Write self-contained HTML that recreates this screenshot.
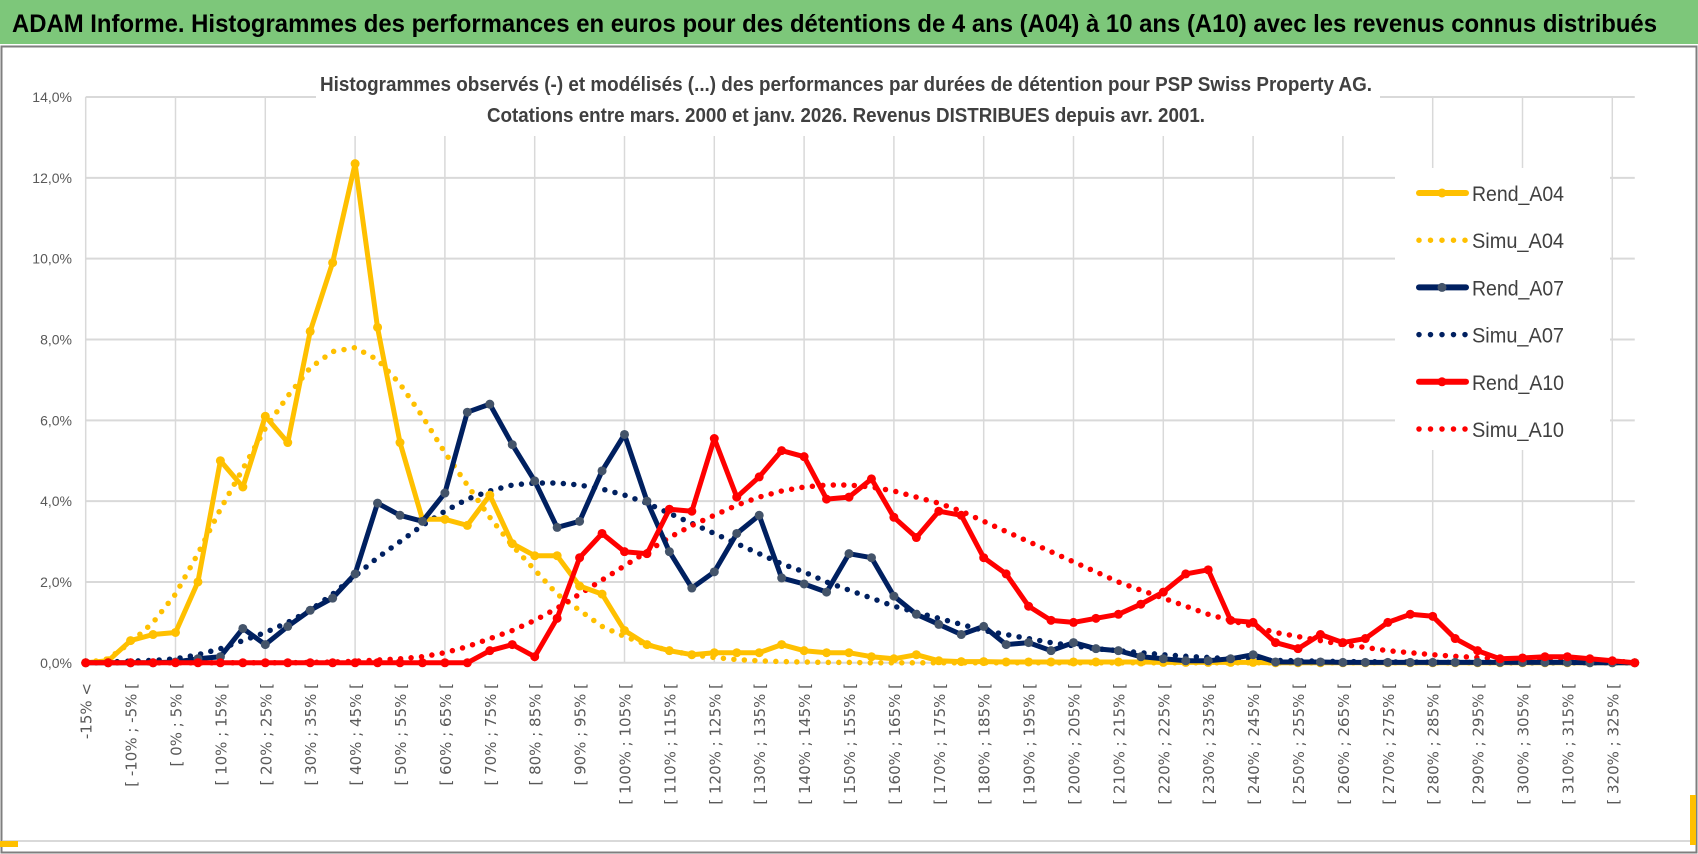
<!DOCTYPE html>
<html><head><meta charset="utf-8"><style>
html,body{margin:0;padding:0;background:#fff;}
svg{display:block;}
</style></head><body>
<svg id="chart" width="1698" height="854" viewBox="0 0 1698 854" xmlns="http://www.w3.org/2000/svg">
<rect x="0" y="0" width="1698" height="854" fill="#ffffff"/>
<rect x="0" y="0" width="1698" height="44" fill="#7dc77a"/>
<text x="12" y="32" font-family="Liberation Sans, sans-serif" font-weight="bold" font-size="25" fill="#000" textLength="1645" lengthAdjust="spacingAndGlyphs">ADAM Informe. Histogrammes des performances en euros pour des détentions de 4 ans (A04) à 10 ans (A10) avec les revenus connus distribués</text>
<rect x="1.5" y="46.5" width="1695" height="806" fill="none" stroke="#7f7f7f" stroke-width="2"/>
<rect x="3" y="840" width="1692" height="2" fill="#d9d9d9"/>
<rect x="0" y="841" width="18" height="6" fill="#ffc000"/>
<rect x="1690" y="795" width="6" height="50" fill="#ffc000"/>
<g id="grid"></g>
<rect x="316" y="62" width="1064" height="74" fill="#fff"/>
<text x="846" y="91" text-anchor="middle" font-family="Liberation Sans, sans-serif" font-weight="bold" font-size="20" fill="#404040" textLength="1052" lengthAdjust="spacingAndGlyphs">Histogrammes observés (-) et modélisés (...) des performances par durées de détention pour PSP Swiss Property AG.</text>
<text x="846" y="122" text-anchor="middle" font-family="Liberation Sans, sans-serif" font-weight="bold" font-size="20" fill="#404040" textLength="718" lengthAdjust="spacingAndGlyphs">Cotations entre mars. 2000 et janv. 2026. Revenus DISTRIBUES depuis avr. 2001.</text>
<g id="yaxis"></g>
<g id="xaxis"></g>
<g id="series"></g>
<rect x="1395" y="168" width="215" height="282" fill="#fff"/>
<g id="legend"></g>
</svg>
<script>
const rendA04=[0,0.05,0.55,0.7,0.75,2.0,5.0,4.35,6.1,5.45,8.2,9.9,12.35,8.3,5.45,3.55,3.55,3.4,4.15,2.95,2.65,2.65,1.9,1.7,0.8,0.45,0.3,0.2,0.25,0.25,0.25,0.45,0.3,0.25,0.25,0.15,0.1,0.2,0.05,0.03,0.03,0.02,0.02,0.02,0.02,0.02,0.02,0.02,0.01,0.01,0.01,0.01,0.01,0,0,0,0,0,0,0,0,0,0,0,0,0,0,0,0,0];
const simuA04=[0,0.1,0.5,1.0,1.7,2.7,3.8,4.8,5.8,6.6,7.3,7.7,7.8,7.5,6.9,6.1,5.2,4.4,3.6,2.9,2.3,1.7,1.3,0.9,0.65,0.45,0.3,0.2,0.13,0.08,0.05,0.03,0.02,0.01,0.01,0,0,0,0,0,0,0,0,0,0,0,0,0,0,0,0,0,0,0,0,0,0,0,0,0,0,0,0,0,0,0,0,0,0,0];
const rendA07=[0,0,0,0,0.02,0.1,0.15,0.85,0.45,0.9,1.3,1.6,2.2,3.95,3.65,3.5,4.2,6.2,6.4,5.4,4.5,3.35,3.5,4.75,5.65,4.0,2.75,1.85,2.25,3.2,3.65,2.1,1.95,1.75,2.7,2.6,1.65,1.2,0.95,0.7,0.9,0.45,0.5,0.3,0.5,0.35,0.3,0.15,0.1,0.05,0.05,0.1,0.2,0.02,0.02,0.02,0.01,0.01,0.01,0.01,0.01,0.01,0.01,0.01,0.01,0.01,0.01,0,0,0];
const simuA07=[0,0.02,0.04,0.06,0.1,0.2,0.35,0.55,0.75,1.0,1.3,1.7,2.15,2.6,3.0,3.4,3.75,4.05,4.25,4.4,4.45,4.45,4.4,4.3,4.15,3.95,3.7,3.45,3.2,2.95,2.7,2.45,2.25,2.0,1.8,1.6,1.4,1.25,1.1,0.95,0.8,0.7,0.6,0.5,0.42,0.35,0.3,0.25,0.2,0.16,0.13,0.1,0.08,0.06,0.05,0.04,0.03,0.03,0.02,0.02,0.01,0.01,0.01,0.01,0,0,0,0,0,0];
const rendA10=[0,0,0,0,0,0,0,0,0,0,0,0,0,0,0,0,0,0,0.3,0.45,0.15,1.1,2.6,3.2,2.75,2.7,3.8,3.75,5.55,4.1,4.6,5.25,5.1,4.05,4.1,4.55,3.6,3.1,3.75,3.65,2.6,2.2,1.4,1.05,1.0,1.1,1.2,1.45,1.75,2.2,2.3,1.05,1.0,0.5,0.35,0.7,0.5,0.6,1.0,1.2,1.15,0.6,0.3,0.1,0.12,0.15,0.15,0.1,0.05,0];
const simuA10=[0,0,0,0,0,0,0,0,0,0,0.01,0.02,0.04,0.07,0.1,0.15,0.25,0.4,0.6,0.8,1.05,1.35,1.7,2.05,2.4,2.75,3.1,3.4,3.65,3.9,4.1,4.25,4.35,4.4,4.4,4.35,4.25,4.1,3.95,3.75,3.5,3.25,3.0,2.75,2.5,2.25,2.0,1.8,1.6,1.4,1.2,1.05,0.9,0.75,0.65,0.55,0.45,0.38,0.3,0.25,0.2,0.16,0.13,0.1,0.08,0.06,0.05,0.04,0.03,0.02];
const yTicks=[0,2,4,6,8,10,12,14];
const yTickLabels=["0,0%","2,0%","4,0%","6,0%","8,0%","10,0%","12,0%","14,0%"];
const nCat=70;

const NS="http://www.w3.org/2000/svg";
const X0=85.7, STEP=22.45, Y0=662.8, YPER=(662.8-97)/14;
function xs(i){return X0+STEP*i;}
function ys(v){return Y0-v*YPER;}
function catLabel(i){ if(i===0) return "-15% <"; const a=-20+5*i; return "[ "+a+"% ; "+(a+5)+"% ["; }
function mk(tag,attrs,parent){const e=document.createElementNS(NS,tag);for(const k in attrs)e.setAttribute(k,attrs[k]);parent.appendChild(e);return e;}

const grid=document.getElementById('grid');
const xRight=xs(nCat-1);
yTicks.forEach(function(t){
  const l=mk('line',{x1:X0,x2:xRight,y1:ys(t),y2:ys(t),stroke:'#d9d9d9','stroke-width':2},grid);
  
  
});
for(let i=0;i<nCat;i+=4){
  const l=mk('line',{x1:xs(i),x2:xs(i),y1:ys(14),y2:ys(0),stroke:'#d9d9d9','stroke-width':1.5},grid);
  
  
}
const yax=document.getElementById('yaxis');
yTicks.forEach(function(t,k){
  const tx=mk('text',{x:72,y:ys(t)+5,'text-anchor':'end','font-family':'Liberation Sans, sans-serif','font-size':14,fill:'#595959'},yax);
  tx.textContent=yTickLabels[k];
  
  
});
const xax=document.getElementById('xaxis');
for(let i=0;i<nCat;i+=2){
  const x=xs(i)+6, y=683;
  const tx=mk('text',{x:x,y:y,'text-anchor':'end',transform:'rotate(-90 '+x+' '+y+')','font-family':'DejaVu Sans, sans-serif','font-size':15,fill:'#595959'},xax);
  tx.textContent=catLabel(i);
  
  
}
const ser=document.getElementById('series');
function pts(arr){return arr.map(function(v,i){return xs(i).toFixed(1)+','+ys(v).toFixed(1);}).join(' ');}
function dotted(arr,color,name){
  const p=mk('polyline',{points:pts(arr),fill:'none',stroke:color,'stroke-width':5.5,'stroke-linecap':'round','stroke-dasharray':'0 10.5'},ser);
  
  
}
function solid(arr,color,mcolor,name){
  const g=mk('g',{},ser);
  
  
  mk('polyline',{points:pts(arr),fill:'none',stroke:color,'stroke-width':5,'stroke-linejoin':'round'},g);
  arr.forEach(function(v,i){
    const c=mk('circle',{cx:xs(i),cy:ys(v),r:4.5,fill:mcolor},g);
    
    
  });
}
dotted(simuA04,'#ffc000','simu-a04-line');
dotted(simuA07,'#002060','simu-a07-line');
dotted(simuA10,'#ff0000','simu-a10-line');
solid(rendA04,'#ffc000','#ffc000','rend-a04-line');
solid(rendA07,'#002060','#44546a','rend-a07-line');
solid(rendA10,'#ff0000','#ff0000','rend-a10-line');

const leg=document.getElementById('legend');
const entries=[["Rend_A04","#ffc000","#ffc000",true],["Simu_A04","#ffc000",null,false],["Rend_A07","#002060","#44546a",true],["Simu_A07","#002060",null,false],["Rend_A10","#ff0000","#ff0000",true],["Simu_A10","#ff0000",null,false]];
entries.forEach(function(e,k){
  const y=193+k*47.2;
  const g=mk('g',{},leg);
  
  
  if(e[3]){
    mk('line',{x1:1419,x2:1466,y1:y,y2:y,stroke:e[1],'stroke-width':6,'stroke-linecap':'round'},g);
    mk('circle',{cx:1442,cy:y,r:4.5,fill:e[2]},g);
  } else {
    mk('line',{x1:1419,x2:1466,y1:y,y2:y,stroke:e[1],'stroke-width':5.5,'stroke-linecap':'round','stroke-dasharray':'0 11.5'},g);
  }
  const t=mk('text',{x:1472,y:y+8,'font-family':'Liberation Sans, sans-serif','font-size':21,fill:'#404040',textLength:92,lengthAdjust:'spacingAndGlyphs'},g);
  t.textContent=e[0];
});
</script>
</body></html>
